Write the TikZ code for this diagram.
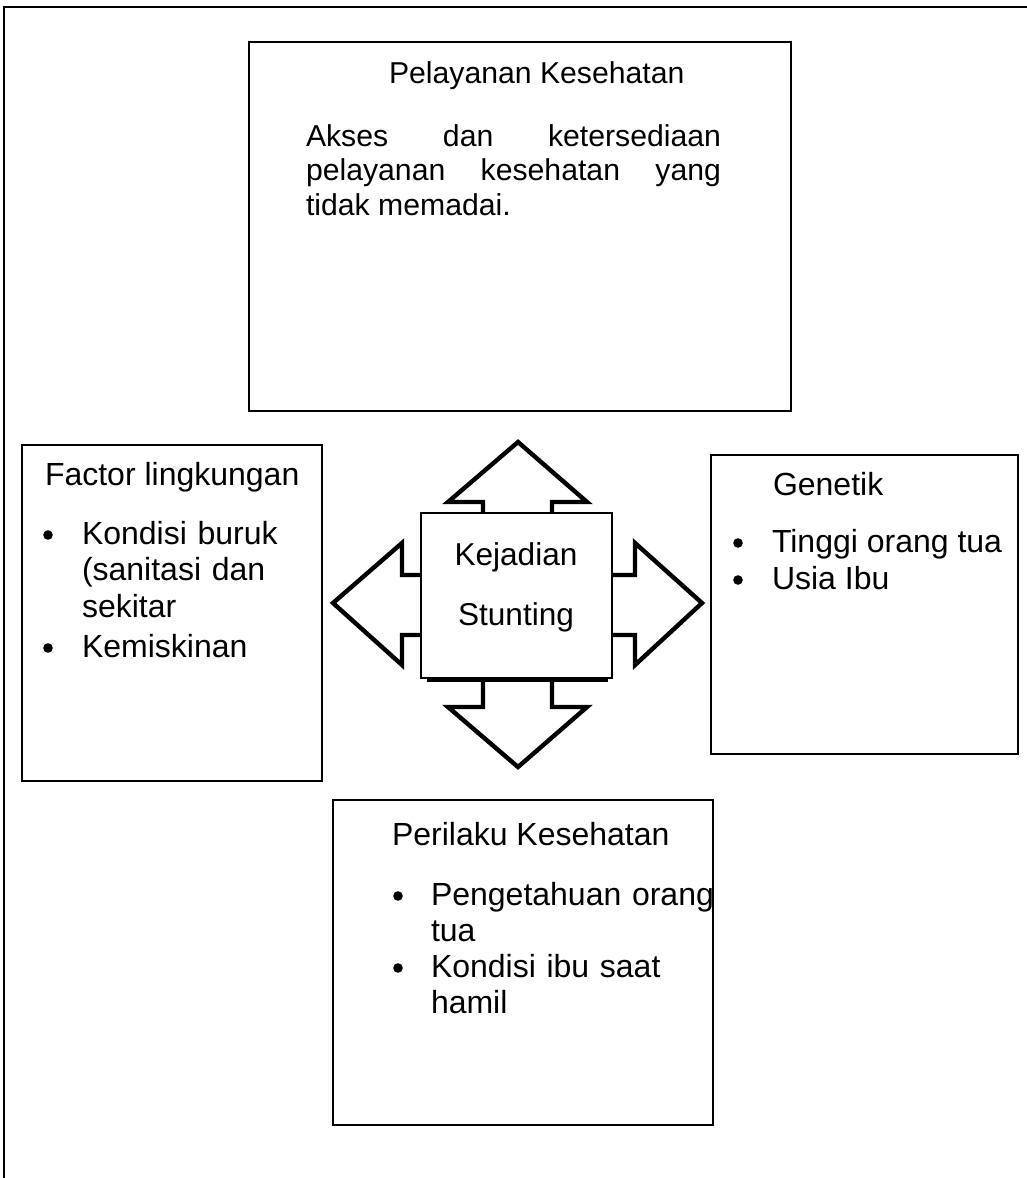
\documentclass[tikz,border=0pt]{standalone}
\usepackage{fontspec}
\setmainfont{Liberation Sans}
\tikzset{
  kotak/.style={draw=black,line width=1pt},
  panah/.style={draw=black,fill=white,line width=2.2pt,line join=miter},
  teks/.style={anchor=base west,font=\fontsize{16}{18.4}\selectfont},
  teksatas/.style={anchor=base west,font=\fontsize{15.1}{17.25}\selectfont},
  tengah/.style={anchor=base,font=\fontsize{15.8}{18}\selectfont},
  titik/.style={circle,fill=black,minimum size=4.8pt},
}

\begin{document}
\begin{tikzpicture}[y=0.5pt, x=0.5pt, yscale=-1, inner sep=0pt, outer sep=0pt]
  \useasboundingbox (0,0) rectangle (1027,1178);
  % frame
  \path[draw=black,line width=1pt] (4,1178) -- (4,7) -- (1027,7);

  % kotak-kotak
  \path[kotak] (249,42) rectangle (791,411);
  \path[kotak] (22,445) rectangle (322,781);
  \path[kotak] (711,455) rectangle (1018,754);
  \path[kotak] (333,800) rectangle (713,1125);

  % panah empat arah
  \path[panah] (518,442) -- (587,502) -- (552,502) -- (552,575) -- (635,575)
    -- (635,543) -- (702,603) -- (635,665) -- (635,635) -- (552,635)
    -- (552,707) -- (587,707) -- (518,767) -- (448,707) -- (483,707)
    -- (483,635) -- (402,635) -- (402,665) -- (333,603) -- (402,543)
    -- (402,575) -- (483,575) -- (483,502) -- (448,502) -- cycle;
  \path[draw=black,line width=2.6pt] (427,679) -- (608,679);
  \path[kotak,fill=white] (421,513) rectangle (612,678);
  \node[tengah] (kejadian) at (516,565) {Kejadian};
  \node[tengah] (stunting) at (516,625) {Stunting};

  % pelayanan
  \node[teksatas] (pelayanan) at (389,83) {Pelayanan Kesehatan};
  \node[teksatas,text width=207.5pt,align=justify] (akses) at (306,146)
    {Akses dan ketersediaan\linebreak pelayanan kesehatan yang\linebreak tidak memadai.};

  % lingkungan
  \node[teks] (faktor) at (45,485) {Factor lingkungan};
  \node[titik] (b1) at (48,535) {};
  \node[teks,text width=120pt,align=left] (kondisi) at (82,544)
    {Kondisi buruk\\(sanitasi dan\\sekitar};
  \node[titik] (b2) at (48,648) {};
  \node[teks] (miskin) at (82,657) {Kemiskinan};

  % genetik
  \node[teks] (genetik) at (773,495) {Genetik};
  \node[titik] (b3) at (738,543) {};
  \node[teks] (tinggi) at (772,552) {Tinggi orang tua};
  \node[titik] (b4) at (738,580) {};
  \node[teks] (usia) at (772,589) {Usia Ibu};

  % perilaku
  \node[teks] (perilaku) at (392,845) {Perilaku Kesehatan};
  \node[titik] (b5) at (398,896) {};
  \node[teks,text width=150pt,align=left] (tahu) at (431,905)
    {Pengetahuan orang\\tua};
  \node[titik] (b6) at (398,968) {};
  \node[teks,text width=150pt,align=left] (hamil) at (431,977)
    {Kondisi ibu saat\\hamil};
\end{tikzpicture}
\end{document}
